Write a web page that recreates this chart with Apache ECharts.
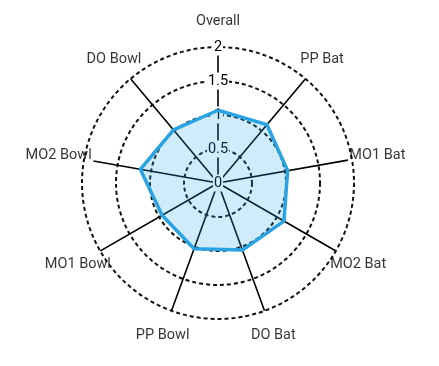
<!DOCTYPE html>
<html>
<head>
<meta charset="utf-8">
<script src="https://cdn.jsdelivr.net/npm/echarts@6/dist/echarts.min.js"></script>
<style>html,body{margin:0;padding:0;background:#fff}#c{width:439px;height:366px}</style>
</head>
<body>
<div id="c"></div>
<script>
var categories = ['Overall', 'PP Bat', 'MO1 Bat', 'MO2 Bat', 'DO Bat', 'PP Bowl', 'MO1 Bowl', 'MO2 Bowl', 'DO Bowl'];
var values = [1.07, 1.12, 1.04, 1.12, 1.05, 1.03, 0.95, 1.16, 1.02];
// length of each drawn spoke (axis units)
var spokeLengths = [2.24, 2.30, 1.94, 2.09, 2.27, 2.24, 2.21, 1.86, 2.22];
var radiusTicks = [0, 0.5, 1, 1.5, 2];

var LABEL_R = 2.38;
var FONT = 'Roboto, "Noto Sans", sans-serif';
var TEXT = '#000000';
var N = categories.length;

// angle dimension = category index (0..N), N wraps to the first axis
var polygon = categories.map(function (c, i) { return [values[i], i]; });
polygon.push([values[0], N]);

var spokes = [];
categories.forEach(function (c, i) {
  spokes.push([0, i]);
  spokes.push([spokeLengths[i], i]);
});

var names = categories.map(function (c, i) { return { name: c, value: [LABEL_R, i] }; });

var chart = echarts.init(document.getElementById('c'), null, { renderer: 'canvas' });
chart.setOption({
  backgroundColor: '#ffffff',
  animation: false,
  polar: { center: [218, 183], radius: 136 },
  angleAxis: {
    type: 'value',
    min: 0,
    max: N,
    startAngle: 90,
    clockwise: true,
    axisLine: { show: false },
    axisTick: { show: false },
    axisLabel: { show: false },
    splitLine: { show: false }
  },
  radiusAxis: {
    type: 'value',
    min: radiusTicks[0],
    max: radiusTicks[radiusTicks.length - 1],
    interval: radiusTicks[1] - radiusTicks[0],
    z: 2,
    axisLine: { show: false },
    axisTick: { show: false },
    splitLine: { show: true, lineStyle: { color: '#111', width: 2, type: [4, 3] } },
    axisLabel: {
      margin: 0,
      align: 'center',
      verticalAlign: 'middle',
      color: TEXT,
      fontFamily: FONT,
      fontSize: 14.5,
      backgroundColor: '#ffffff',
      padding: [1, 1]
    }
  },
  series: [
    {
      type: 'line',
      coordinateSystem: 'polar',
      data: spokes,
      clip: false,
      symbol: 'none',
      silent: true,
      z: 1,
      lineStyle: { color: '#000', width: 1.6 }
    },
    {
      type: 'line',
      coordinateSystem: 'polar',
      data: polygon,
      clip: false,
      symbol: 'none',
      z: 3,
      lineStyle: { color: '#29a3e2', width: 3.5, join: 'round' },
      areaStyle: { color: 'rgba(41,163,226,0.22)', opacity: 1 }
    },
    {
      type: 'scatter',
      coordinateSystem: 'polar',
      data: names,
      clip: false,
      symbolSize: 1,
      z: 4,
      itemStyle: { color: 'rgba(0,0,0,0)' },
      label: {
        show: true,
        position: 'inside',
        formatter: '{b}',
        color: TEXT,
        fontFamily: FONT,
        fontSize: 14.5
      }
    }
  ]
});
</script>
</body>
</html>
